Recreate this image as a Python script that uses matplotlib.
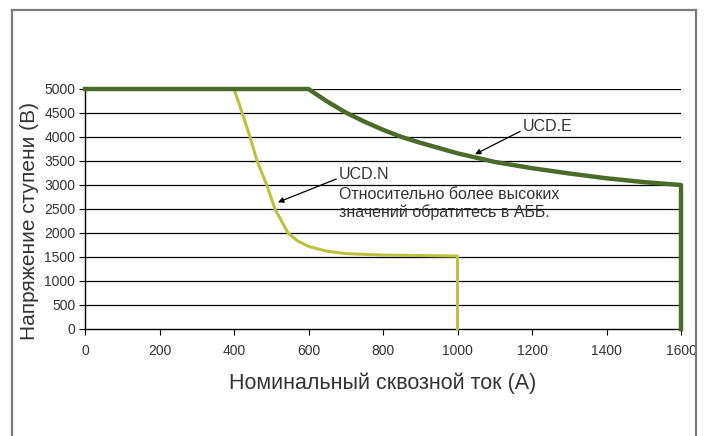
import matplotlib
matplotlib.use("Agg")
import matplotlib.pyplot as plt
from matplotlib.lines import Line2D

plt.rcParams["font.family"] = ["Liberation Sans", "DejaVu Sans"]

# ── data ─────────────────────────────────────────────────────────────────────
ucd_n_current = [0, 400, 420, 443, 462, 488, 510, 545, 570, 600, 650, 700, 800, 900, 1000, 1000]
ucd_n_voltage = [5000, 5000, 4550, 4000, 3500, 3000, 2500, 2000, 1840, 1720, 1620, 1570, 1540, 1530, 1520, 0]

ucd_e_current = [0, 600, 650, 700, 750, 800, 850, 900, 1000, 1050, 1100, 1200, 1300, 1400, 1500, 1600, 1600]
ucd_e_voltage = [5000, 5000, 4740, 4510, 4320, 4150, 4000, 3880, 3660, 3570, 3480, 3350, 3240, 3140, 3060, 3000, 0]

x_ticks = [0, 200, 400, 600, 800, 1000, 1200, 1400, 1600]
y_ticks = [0, 500, 1000, 1500, 2000, 2500, 3000, 3500, 4000, 4500, 5000]

N_COLOR = "#bcc13e"
E_COLOR = "#4c6b2b"
TEXT = "#333333"

fig = plt.figure(figsize=(7.06, 4.36), dpi=100, facecolor="white")
ax = fig.add_axes([85 / 706, 1 - 329 / 436, 596 / 706, 240 / 436])

# horizontal grid
for y in y_ticks[1:]:
    ax.axhline(y, color="black", lw=0.9, zorder=1)

ax.plot(ucd_n_current, ucd_n_voltage, color=N_COLOR, lw=2.2,
        solid_joinstyle="round", zorder=3, clip_on=False)
ax.plot(ucd_e_current, ucd_e_voltage, color=E_COLOR, lw=3.2,
        solid_joinstyle="round", zorder=4, clip_on=False)

ax.set_xlim(0, 1600)
ax.set_ylim(0, 5000)
ax.set_xticks(x_ticks)
ax.set_yticks(y_ticks)
for s in ["top", "right"]:
    ax.spines[s].set_visible(False)
for s in ["left", "bottom"]:
    ax.spines[s].set_linewidth(1.0)
ax.tick_params(axis="both", direction="out", length=4, width=0.8,
               labelsize=10, labelcolor=TEXT, pad=3)
ax.tick_params(axis="x", pad=7)

ax.set_xlabel("Номинальный сквозной ток (А)", fontsize=15.5, color=TEXT, labelpad=10)
ax.set_ylabel("Напряжение ступени (В)", fontsize=15, color=TEXT)
ax.yaxis.set_label_coords(-0.077, 0.45)

# annotations
ax.annotate("UCD.E", xy=(1047, 3640), xytext=(1176, 4210),
            fontsize=11.5, color=TEXT, ha="left", va="center",
            arrowprops=dict(arrowstyle="-|>", color="black", lw=0.9,
                            shrinkA=0, shrinkB=0, mutation_scale=8,
                            relpos=(0, 0.3)))
ax.annotate("UCD.N", xy=(518, 2640), xytext=(682, 3210),
            fontsize=11.5, color=TEXT, ha="left", va="center",
            arrowprops=dict(arrowstyle="-|>", color="black", lw=0.9,
                            shrinkA=0, shrinkB=0, mutation_scale=8,
                            relpos=(0, 0.3)))
ax.text(682, 2810, "Относительно более высоких",
        fontsize=11.5, color=TEXT, ha="left", va="center")
ax.text(682, 2430, "значений обратитесь в АББ.",
        fontsize=11.5, color=TEXT, ha="left", va="center")

# page frame
frame = dict(color="#7a7a7a", lw=1.6, transform=fig.transFigure)
fig.add_artist(Line2D([12 / 706, 12 / 706], [0, 1 - 10 / 436], **frame))
fig.add_artist(Line2D([12 / 706, 696 / 706], [1 - 10 / 436, 1 - 10 / 436], **frame))
fig.add_artist(Line2D([696 / 706, 696 / 706], [0, 1 - 10 / 436], **frame))

fig.savefig("out.png", dpi=100, facecolor="white")
